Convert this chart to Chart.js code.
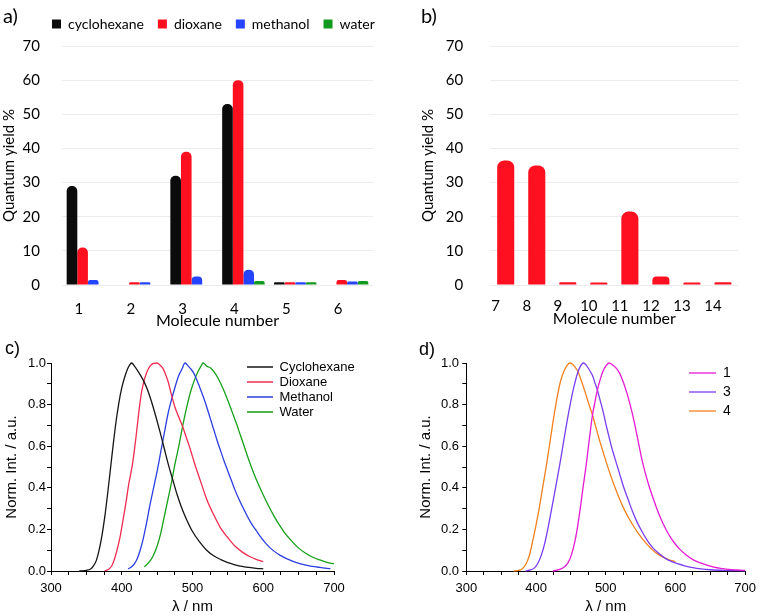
<!DOCTYPE html>
<html>
<head>
<meta charset="utf-8">
<script src="https://cdn.jsdelivr.net/npm/chart.js@4.4.1/dist/chart.umd.min.js"></script>
<style>
  html, body { margin: 0; padding: 0; background: #fff; }
  #fig { position: relative; width: 762px; height: 616px; overflow: hidden; }
  .panel { position: absolute; }
  .tag { position: absolute; line-height: 1; color: #000; }
</style>
</head>
<body>
<div id="fig">
  <div class="panel" style="left:0;top:0;width:381px;height:330px"><canvas id="chartA"></canvas></div>
  <div class="panel" style="left:381px;top:0;width:381px;height:330px"><canvas id="chartB"></canvas></div>
  <div class="panel" style="left:0;top:330px;width:381px;height:286px"><canvas id="chartC"></canvas></div>
  <div class="panel" style="left:381px;top:330px;width:381px;height:286px"><canvas id="chartD"></canvas></div>
  <div class="tag" style="left:3px;top:3px;font:20px Lato">a)</div>
  <div class="tag" style="left:421px;top:3px;font:20px Lato">b)</div>
  <div class="tag" style="left:5px;top:338px;font:18px 'Liberation Sans'">c)</div>
  <div class="tag" style="left:419px;top:339px;font:18px 'Liberation Sans'">d)</div>
</div>
<script>
// a) quantum yield (%) of molecules 1-6 in four solvents
var moleculesA    = ['1', '2', '3', '4', '5', '6'];
var qyCyclohexane = [29, null, 32, 53, 0.8, null];
var qyDioxane     = [11, 0.8, 39, 60, 0.8, 1.5];
var qyMethanol    = [1.5, 0.8, 2.5, 4.5, 0.8, 1];
var qyWater       = [null, null, null, 1.2, 0.8, 1.2];

// b) quantum yield (%) of molecules 7-14 (dioxane)
var moleculesB = ['7', '8', '9', '10', '11', '12', '13', '14'];
var qyB        = [36.5, 35, 0.8, 0.7, 21.5, 2.5, 0.7, 0.8];

// c) normalised emission spectra in four solvents
var cycloNm  = [340,350,356,360,364,368,372,376,380,384,388,392,396,400,404,408,411,414,418,424,430,436,442,448,454,460,466,472,478,484,490,500,510,520,530,540,550,560,570,580,590,600];
var cycloInt = [0,0.003,0.01,0.025,0.05,0.1,0.17,0.26,0.37,0.49,0.61,0.72,0.81,0.88,0.93,0.97,0.99,1,0.985,0.955,0.92,0.875,0.815,0.745,0.67,0.59,0.51,0.44,0.37,0.31,0.26,0.19,0.14,0.1,0.073,0.055,0.04,0.03,0.022,0.017,0.013,0.01];
var dioxNm   = [376,382,386,390,394,398,402,406,410,415,420,424,428,432,436,440,445,450,454,458,462,466,470,475,480,486,490,495,500,505,510,515,520,530,540,550,560,570,580,590,600];
var dioxInt  = [0,0.01,0.025,0.06,0.11,0.17,0.25,0.33,0.42,0.51,0.64,0.76,0.86,0.92,0.96,0.985,0.998,1,0.99,0.975,0.945,0.905,0.85,0.79,0.745,0.695,0.655,0.605,0.55,0.495,0.445,0.395,0.345,0.27,0.205,0.16,0.12,0.092,0.071,0.056,0.045];
var methNm   = [409,414,418,422,426,430,435,440,445,450,455,460,465,470,475,480,485,489.5,494,498,502,506,510,515,520,525,530,535,540,545,550,555,560,567,575,582,590,596,603,610,624,643,662,680,695];
var methInt  = [0.01,0.02,0.035,0.06,0.1,0.15,0.23,0.32,0.4,0.48,0.57,0.66,0.75,0.82,0.88,0.935,0.97,1,0.985,0.97,0.95,0.92,0.885,0.84,0.79,0.735,0.68,0.625,0.575,0.525,0.48,0.435,0.39,0.335,0.28,0.235,0.195,0.165,0.135,0.11,0.075,0.045,0.027,0.017,0.011];
var waterNm  = [432,438,444,450,455,460,465,470,475,480,486,492,498,503,508,512,515,520,526,532,538,544,550,556,562,568,574,580,586,592,600,608,615,622,630,640,650,660,670,680,690,700];
var waterInt = [0.02,0.04,0.07,0.12,0.18,0.26,0.34,0.42,0.51,0.59,0.695,0.79,0.87,0.92,0.96,0.985,1,0.985,0.975,0.95,0.915,0.87,0.82,0.765,0.71,0.65,0.59,0.53,0.475,0.425,0.365,0.31,0.265,0.225,0.185,0.145,0.11,0.085,0.066,0.053,0.042,0.035];

// d) normalised emission spectra of 1, 3 and 4
var mol1Nm  = [424,430,436,441,446,451,455,459,463,467,472,476,481,485,488,492,496,500,505,510,515,520,525,530,535,540,545,551,556,562,568,575,582,590,598,606,615,625,635,645,655,665,680,700];
var mol1Int = [0,0.004,0.01,0.02,0.04,0.08,0.13,0.2,0.29,0.39,0.51,0.62,0.75,0.82,0.87,0.92,0.96,0.985,1,0.99,0.975,0.95,0.91,0.86,0.8,0.73,0.65,0.55,0.48,0.41,0.35,0.285,0.23,0.178,0.137,0.105,0.078,0.055,0.04,0.028,0.019,0.013,0.007,0.003];
var mol3Nm  = [385,392,398,403,408,413,418,423,428,434,439,444,449,454,459,463,468,472,476,481,485,488,492,496,500,504,508,512,516,521,526,532,538,545,552,560,568,576,585,594,603,613,625,637,650,670,700];
var mol3Int = [0,0.005,0.015,0.04,0.08,0.14,0.22,0.31,0.4,0.51,0.61,0.71,0.8,0.88,0.945,0.98,1,0.99,0.97,0.94,0.9,0.87,0.82,0.77,0.71,0.655,0.6,0.555,0.51,0.455,0.4,0.345,0.29,0.235,0.19,0.145,0.11,0.085,0.062,0.046,0.035,0.025,0.016,0.01,0.006,0.003,0.001];
var mol4Nm  = [368,375,380,385,390,395,400,405,410,415,420,425,430,435,440,444,448,452,456,460,465,470,475,481,486,491,496,502,508,514,520,526,533,540,547,555,563,571,580,590,600];
var mol4Int = [0,0.003,0.01,0.03,0.07,0.14,0.22,0.31,0.41,0.51,0.62,0.73,0.83,0.91,0.96,0.985,1,0.995,0.98,0.96,0.915,0.865,0.81,0.75,0.69,0.63,0.575,0.51,0.45,0.395,0.345,0.3,0.255,0.215,0.18,0.145,0.115,0.09,0.07,0.055,0.045];

function pts(nm, val) {
  return nm.map(function(x, i) { return { x: x, y: val[i] }; });
}

// Puts a legend at a fixed spot inside its canvas (Chart.js only offers edges).
var legendAt = {
  id: 'legendAt',
  afterLayout: function(chart, args, opts) {
    var lg = chart.legend;
    if (!lg || !opts || opts.x === undefined) return;
    lg.left = opts.x;
    lg.top = opts.y;
    lg.right = chart.width + 60;
  }
};

var barFont  = 'Lato';
var specFont = "'Liberation Sans', Arial, sans-serif";

Chart.defaults.color = '#000';
Chart.defaults.animation = false;
Chart.defaults.plugins.tooltip.enabled = false;

function barScales(titleX, padX, offX, padY, widthY) {
  return {
    x: {
      grid: { display: false }, border: { display: false },
      ticks: { font: { family: barFont, size: 15 }, padding: padX, labelOffset: offX, maxRotation: 0 },
      title: { display: true, text: 'Molecule number', font: { family: barFont, size: 16 }, padding: { top: 0, bottom: titleX } },
      afterFit: function(s) { s.height = 45; }
    },
    y: {
      min: 0, max: 70,
      ticks: { stepSize: 10, font: { family: barFont, size: 15 }, padding: padY },
      grid: { color: '#ececec', drawTicks: false }, border: { display: false },
      title: { display: true, text: 'Quantum yield %', font: { family: barFont, size: 15 }, padding: { top: 0, bottom: 0 } },
      afterFit: function(s) { s.width = widthY; }
    }
  };
}

new Chart(document.getElementById('chartA'), {
  type: 'bar',
  data: {
    labels: moleculesA,
    datasets: [
      { label: 'cyclohexane', data: qyCyclohexane, backgroundColor: '#0b0b0b' },
      { label: 'dioxane',     data: qyDioxane,     backgroundColor: '#ff1020' },
      { label: 'methanol',    data: qyMethanol,    backgroundColor: '#2544ff' },
      { label: 'water',       data: qyWater,       backgroundColor: '#129a1e' }
    ]
  },
  options: {
    responsive: true, maintainAspectRatio: false,
    layout: { padding: { left: 0, right: 8, top: 8, bottom: 0 } },
    datasets: { bar: { categoryPercentage: 0.82, barPercentage: 1, borderRadius: { topLeft: 5, topRight: 5 }, borderSkipped: 'bottom' } },
    plugins: {
      legend: { align: 'start', labels: { boxWidth: 9, boxHeight: 9, padding: 14, font: { family: barFont, size: 14 } } },
      legendAt: { x: 38, y: 3 }
    },
    scales: barScales(0, 7, -9, 22, 62)
  },
  plugins: [legendAt]
});

new Chart(document.getElementById('chartB'), {
  type: 'bar',
  data: {
    labels: moleculesB,
    datasets: [{ label: 'dioxane', data: qyB, backgroundColor: '#ff1020' }]
  },
  options: {
    responsive: true, maintainAspectRatio: false,
    layout: { padding: { left: 38, right: 23.5, top: 46, bottom: 0 } },
    datasets: { bar: { categoryPercentage: 0.55, barPercentage: 1, borderRadius: { topLeft: 7, topRight: 7 }, borderSkipped: 'bottom' } },
    plugins: { legend: { display: false } },
    scales: barScales(2, 4, -10, 27, 71.2)
  }
});

function specScales(padLeftTitle, padTickY, widthY) {
  return {
    x: {
      type: 'linear', min: 300, max: 700,
      ticks: {
        stepSize: 25, autoSkip: false, maxRotation: 0, padding: 6,
        font: { family: specFont, size: 13 },
        callback: function(v) { return v % 100 === 0 ? v : ''; }
      },
      grid: { drawOnChartArea: false, tickLength: 4, tickColor: '#000' },
      border: { color: '#000', width: 1 },
      title: { display: true, text: 'λ / nm', font: { family: specFont, size: 15 }, padding: { top: 0, bottom: 0 } },
      afterFit: function(s) { s.height = 45; }
    },
    y: {
      min: 0, max: 1,
      ticks: {
        stepSize: 0.1, autoSkip: false, padding: padTickY,
        font: { family: specFont, size: 13 },
        callback: function(v) { return Math.round(v * 10) % 2 === 0 ? v.toFixed(1) : ''; }
      },
      grid: { drawOnChartArea: false, tickLength: 4, tickColor: '#000' },
      border: { color: '#000', width: 1 },
      title: { display: true, text: 'Norm. Int. / a.u.', font: { family: specFont, size: 15 }, padding: { top: padLeftTitle, bottom: 0 } },
      afterFit: function(s) { s.width = widthY; }
    }
  };
}

function line(label, nm, val, color) {
  return {
    label: label, data: pts(nm, val), borderColor: color, backgroundColor: color,
    borderWidth: 1.3, pointRadius: 0, cubicInterpolationMode: 'monotone', clip: false
  };
}

new Chart(document.getElementById('chartC'), {
  type: 'line',
  data: {
    datasets: [
      line('Cyclohexane', cycloNm, cycloInt, '#151515'),
      line('Dioxane',     dioxNm,  dioxInt,  '#ee2c50'),
      line('Methanol',    methNm,  methInt,  '#2b3fe0'),
      line('Water',       waterNm, waterInt, '#16a01a')
    ]
  },
  options: {
    responsive: true, maintainAspectRatio: false,
    layout: { padding: { left: 0, right: 47, top: 33, bottom: 0 } },
    plugins: {
      legend: {
        position: 'chartArea', align: 'start',
        labels: { usePointStyle: true, pointStyle: 'line', pointStyleWidth: 26, padding: 2, font: { family: specFont, size: 13 } }
      },
      legendAt: { x: 245, y: 28.5 }
    },
    scales: specScales(3, 1, 51)
  },
  plugins: [legendAt]
});

new Chart(document.getElementById('chartD'), {
  type: 'line',
  data: {
    datasets: [
      line('1', mol1Nm, mol1Int, '#e41ad4'),
      line('3', mol3Nm, mol3Int, '#7a3ef0'),
      line('4', mol4Nm, mol4Int, '#f2801e')
    ]
  },
  options: {
    responsive: true, maintainAspectRatio: false,
    layout: { padding: { left: 33, right: 12, top: 33, bottom: 0 } },
    plugins: {
      legend: {
        position: 'chartArea', align: 'start',
        labels: { usePointStyle: true, pointStyle: 'line', pointStyleWidth: 27, padding: 5, font: { family: specFont, size: 14 } }
      },
      legendAt: { x: 303, y: 31 }
    },
    scales: specScales(3, 3.3, 52.3)
  },
  plugins: [legendAt]
});
</script>
</body>
</html>
